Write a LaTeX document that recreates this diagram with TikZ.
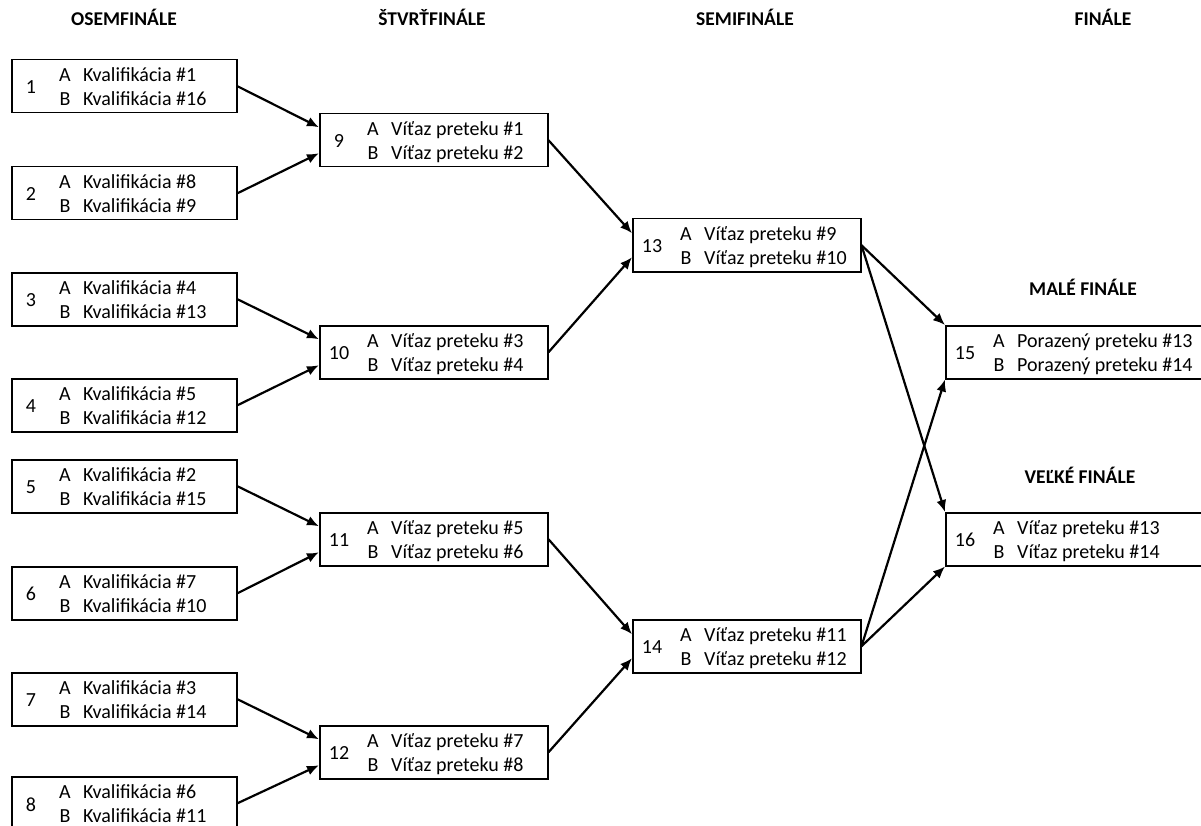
\documentclass[tikz,border=0pt]{standalone}
\usepackage{fontspec}
\setmainfont{Carlito}
\usetikzlibrary{arrows.meta}
\tikzset{
  box/.style={draw, line width=1.5pt, minimum height=53pt, inner sep=0pt, anchor=north west},
  txt/.style={inner sep=0pt, font=\fontsize{20pt}{22pt}\selectfont},
  hdr/.style={inner sep=0pt, font=\fontsize{19.5pt}{22pt}\selectfont\bfseries},
  arr/.style={line width=2.2pt, -{Latex[length=12pt,width=10pt]}}
}
\newcommand\match[7]{%
  \node[box, minimum width=#4] (#1) at (#2,#3) {};
  \node[txt, anchor=center] at ([xshift=20pt,yshift=-1pt]#1.west) {#5};
  \node[txt, anchor=base] at ([xshift=54pt,yshift=5pt]#1.west) {A};
  \node[txt, anchor=base west] at ([xshift=72pt,yshift=5pt]#1.west) {#6};
  \node[txt, anchor=base] at ([xshift=54pt,yshift=-19pt]#1.west) {B};
  \node[txt, anchor=base west] at ([xshift=72pt,yshift=-19pt]#1.west) {#7};
}
\begin{document}
\begin{tikzpicture}[x=1pt,y=-1pt]
\fill[white] (0,0) rectangle (1201,826);
\clip (0,0) rectangle (1201,826);
% headers
\node[hdr] (h1) at (124,17) {OSEMFINÁLE};
\node[hdr] (h2) at (432,17) {ŠTVRŤFINÁLE};
\node[hdr] (h3) at (745,17) {SEMIFINÁLE};
\node[hdr] (h4) at (1103,17) {FINÁLE};
\node[hdr] (h5) at (1083,287) {MALÉ FINÁLE};
\node[hdr] (h6) at (1080,475) {VEĽKÉ FINÁLE};
% round of 16
\match{m1}{11}{59}{225}{1}{Kvalifikácia \#1}{Kvalifikácia \#16}
\match{m2}{11}{166}{225}{2}{Kvalifikácia \#8}{Kvalifikácia \#9}
\match{m3}{11}{272}{225}{3}{Kvalifikácia \#4}{Kvalifikácia \#13}
\match{m4}{11}{378}{225}{4}{Kvalifikácia \#5}{Kvalifikácia \#12}
\match{m5}{11}{459}{225}{5}{Kvalifikácia \#2}{Kvalifikácia \#15}
\match{m6}{11}{566}{225}{6}{Kvalifikácia \#7}{Kvalifikácia \#10}
\match{m7}{11}{672}{225}{7}{Kvalifikácia \#3}{Kvalifikácia \#14}
\match{m8}{11}{776}{225}{8}{Kvalifikácia \#6}{Kvalifikácia \#11}
% quarterfinals
\match{m9}{319}{113}{228}{9}{Víťaz preteku \#1}{Víťaz preteku \#2}
\match{m10}{319}{325}{228}{10}{Víťaz preteku \#3}{Víťaz preteku \#4}
\match{m11}{319}{512}{228}{11}{Víťaz preteku \#5}{Víťaz preteku \#6}
\match{m12}{319}{725}{228}{12}{Víťaz preteku \#7}{Víťaz preteku \#8}
% semifinals
\match{m13}{632}{218}{228}{13}{Víťaz preteku \#9}{Víťaz preteku \#10}
\match{m14}{632}{619}{228}{14}{Víťaz preteku \#11}{Víťaz preteku \#12}
% finals
\match{m15}{945}{325}{262}{15}{Porazený preteku \#13}{Porazený preteku \#14}
\match{m16}{945}{512}{262}{16}{Víťaz preteku \#13}{Víťaz preteku \#14}
% arrows
\draw[arr] (m1.east) -- ([yshift=13pt]m9.west);
\draw[arr] (m2.east) -- ([yshift=-13pt]m9.west);
\draw[arr] (m3.east) -- ([yshift=13pt]m10.west);
\draw[arr] (m4.east) -- ([yshift=-13pt]m10.west);
\draw[arr] (m5.east) -- ([yshift=13pt]m11.west);
\draw[arr] (m6.east) -- ([yshift=-13pt]m11.west);
\draw[arr] (m7.east) -- ([yshift=13pt]m12.west);
\draw[arr] (m8.east) -- ([yshift=-13pt]m12.west);
\draw[arr] (m9.east) -- ([yshift=12pt]m13.west);
\draw[arr] (m10.east) -- ([yshift=-12pt]m13.west);
\draw[arr] (m11.east) -- ([yshift=12pt]m14.west);
\draw[arr] (m12.east) -- ([yshift=-12pt]m14.west);
\draw[arr] (m13.east) -- (m15.north west);
\draw[arr] (m13.east) -- (m16.north west);
\draw[arr] (m14.east) -- (m15.south west);
\draw[arr] (m14.east) -- (m16.south west);
\end{tikzpicture}
\end{document}
